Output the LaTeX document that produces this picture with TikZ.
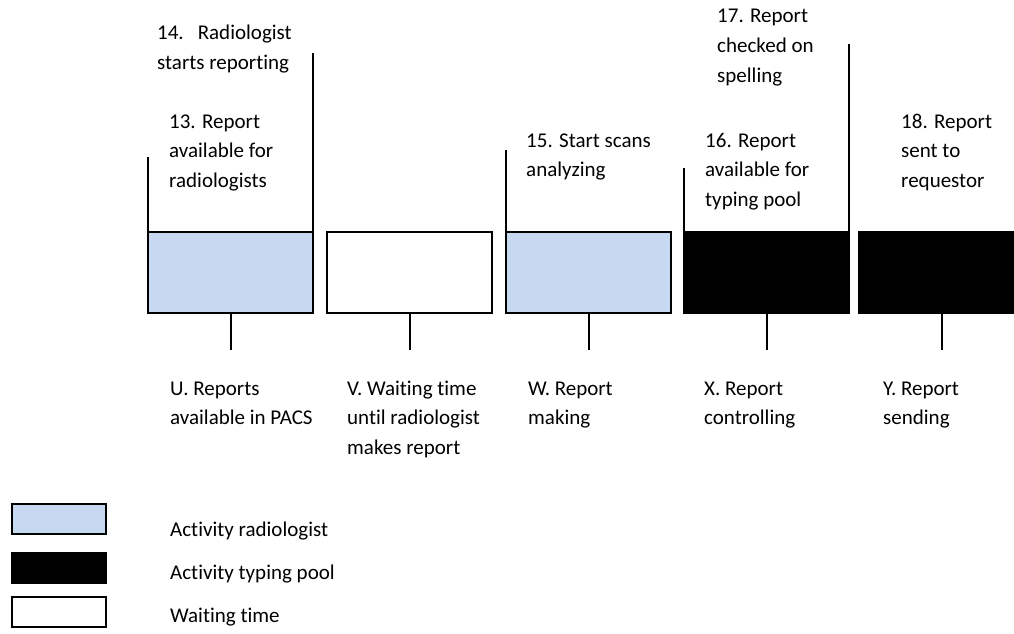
\documentclass[tikz,border=0pt]{standalone}
\usepackage{fontspec}
\setmainfont{Carlito}[Ligatures=NoCommon]
\begin{document}
\begin{tikzpicture}[x=1pt,y=-1pt,
  lbl/.style={anchor=base west,inner sep=0pt,align=left,font=\fontsize{21}{29.5}\selectfont},
  bar/.style={draw=black,line width=2pt,minimum width=165pt,minimum height=81pt,inner sep=0pt,outer sep=0pt,anchor=north west},
  rad/.style={bar,fill=radblue},
  typ/.style={bar,fill=black},
  wait/.style={bar,fill=white},
  leg/.style={draw=black,line width=2pt,minimum width=94pt,minimum height=30pt,inner sep=0pt,outer sep=0pt,anchor=north west},
  conn/.style={line width=2pt}]
\definecolor{radblue}{HTML}{C6D9F0}
\useasboundingbox (0,0) rectangle (1014,634);
% bars
\node[rad]  (b1) at (148,232) {};
\node[wait] (b2) at (327,232) {};
\node[rad]  (b3) at (506,232) {};
\node[typ]  (b4) at (684,232) {};
\node[typ]  (b5) at (859,232) {};
% end points of connectors
\coordinate (b1tl) at (148,157);
\coordinate (b1tr) at (313,53);
\coordinate (b3tl) at (506,150);
\coordinate (b4tl) at (684,168);
\coordinate (b4tr) at (849,44);
\foreach \b in {b1,b2,b3,b4,b5}{
  \coordinate (\b d) at ([yshift=-37pt]\b.south);
  \draw[conn] (\b.south) -- (\b d);
}
\draw[conn] (b1.north west) -- (b1tl);
\draw[conn] (b1.north east) -- (b1tr);
\draw[conn] (b3.north west) -- (b3tl);
\draw[conn] (b4.north west) -- (b4tl);
\draw[conn] (b4.north east) -- (b4tr);
% top labels (anchored at the baseline of their last line)
\node[lbl] (t14) at (157,69.5) {14.\hspace{14pt}Radiologist\\starts reporting};
\node[lbl] (t13) at (169,187) {13. Report\\available for\\radiologists};
\node[lbl] (t15) at (526,176.5) {15. Start scans\\analyzing};
\node[lbl] (t16) at (705,206) {16. Report\\available for\\typing pool};
\node[lbl] (t17) at (717,82) {17. Report\\checked on\\spelling};
\node[lbl] (t18) at (901,187) {18. Report\\sent to\\requestor};
% bottom labels
\node[lbl] (tU) at (170,424.5) {U. Reports\\available in PACS};
\node[lbl] (tV) at (347,454) {V. Waiting time\\until radiologist\\makes report};
\node[lbl] (tW) at (528,424.5) {W. Report\\making};
\node[lbl] (tX) at (704,424.5) {X. Report\\controlling};
\node[lbl] (tY) at (883,424.5) {Y. Report\\sending};
% legend
\node[leg,fill=radblue] (l1) at (12,504) {};
\node[leg,fill=black]   (l2) at (12,553) {};
\node[leg,fill=white]   (l3) at (12,597) {};
\node[lbl] (lt1) at (170,536) {Activity radiologist};
\node[lbl] (lt2) at (170,579) {Activity typing pool};
\node[lbl] (lt3) at (170,622) {Waiting time};
\end{tikzpicture}
\end{document}
